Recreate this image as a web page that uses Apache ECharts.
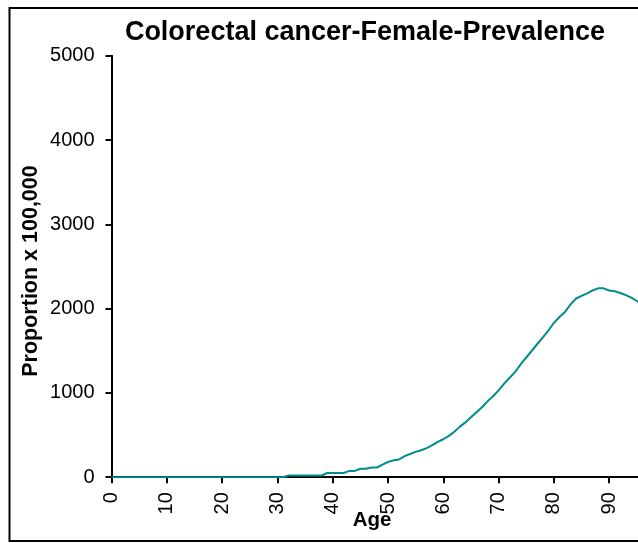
<!DOCTYPE html>
<html>
<head>
<meta charset="utf-8">
<script src="https://cdn.jsdelivr.net/npm/echarts@6/dist/echarts.min.js"></script>
<style>
html,body{margin:0;padding:0;background:#fff;}
#chart{width:638px;height:543px;}
</style>
</head>
<body>
<div id="chart"></div>
<script>
const chartTitle = "Colorectal cancer-Female-Prevalence";
const xAxisTitle = "Age";
const yAxisTitle = "Proportion x 100,000";
const ages = [0,1,2,3,4,5,6,7,8,9,10,11,12,13,14,15,16,17,18,19,20,21,22,23,24,25,26,27,28,29,30,31,32,33,34,35,36,37,38,39,40,41,42,43,44,45,46,47,48,49,50,51,52,53,54,55,56,57,58,59,60,61,62,63,64,65,66,67,68,69,70,71,72,73,74,75,76,77,78,79,80,81,82,83,84,85,86,87,88,89,90,91,92,93,94,95,96,97];
const prevalence = [0,0,0,0,0,0,0,0,0,0,0,0,0,0,0,0,0,0,0,0,0,0,0,0,0,0,0,0,0,0,0,0,20,20,20,20,20,20,20,50,50,50,50,75,75,100,100,115,115,150,180,200,210,250,275,300,320,345,380,420,450,490,540,600,650,710,770,830,900,960,1030,1110,1180,1250,1340,1420,1500,1580,1660,1740,1830,1900,1960,2050,2120,2150,2180,2215,2240,2240,2215,2205,2185,2160,2130,2090,2040,1990];
const xTicks = [0,10,20,30,40,50,60,70,80,90,100];
const yTicks = [0,1000,2000,3000,4000,5000];

const chart = echarts.init(document.getElementById('chart'), null, {renderer:'canvas'});
const font = 'Arial, "Liberation Sans", sans-serif';
chart.setOption({
  animation:false,
  backgroundColor:'#fff',
  title:{
    text: chartTitle, left: 360, top: 14, textAlign:'center',
    textStyle:{fontFamily:font, fontWeight:'bold', fontSize:27, color:'#000'}
  },
  grid:{left:111.5, top:55.7, width:553, height:421.5, containLabel:false, outerBoundsMode:'none'},
  xAxis:{
    type:'value', min:xTicks[0], max:xTicks[xTicks.length-1], interval:10,
    axisLine:{show:true, onZero:false, lineStyle:{color:'#000', width:2}},
    axisTick:{show:true, length:6, lineStyle:{color:'#000', width:2}},
    axisLabel:{rotate:90, margin:15, fontFamily:font, fontSize:20, color:'#000', formatter:(v)=>String(v)},
    splitLine:{show:false}
  },
  yAxis:{
    type:'value', min:yTicks[0], max:yTicks[yTicks.length-1], interval:1000,
    axisLine:{show:true, lineStyle:{color:'#000', width:2}},
    axisTick:{show:true, length:6, lineStyle:{color:'#000', width:2}},
    axisLabel:{margin:17, fontFamily:font, fontSize:20, color:'#000', formatter:(v)=>String(v)},
    splitLine:{show:false}
  },
  graphic:[
    {type:'rect', shape:{x:9.5, y:8, width:700, height:533}, style:{fill:'none', stroke:'#000', lineWidth:2}, silent:true, z:-1},
    {type:'text', x:31, y:271, rotation:Math.PI/2, style:{text:yAxisTitle, font:'bold 21.5px Arial, "Liberation Sans", sans-serif', fill:'#000', textAlign:'center', textVerticalAlign:'middle'}},
    {type:'text', x:372, y:520, style:{text:xAxisTitle, font:'bold 20.5px Arial, "Liberation Sans", sans-serif', fill:'#000', textAlign:'center', textVerticalAlign:'middle'}}
  ],
  series:[{
    type:'line', data: ages.map((a,i)=>[a, prevalence[i]]),
    showSymbol:false, symbol:'none', clip:true,
    lineStyle:{color:'#008c8c', width:2}
  }]
});
</script>
</body>
</html>
